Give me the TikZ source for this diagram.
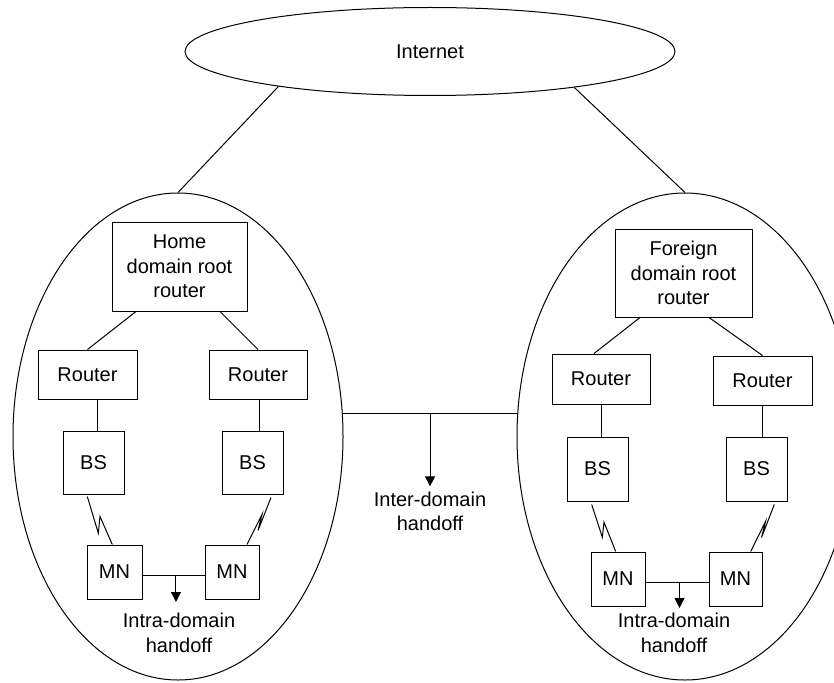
\documentclass[tikz,border=0pt]{standalone}
\usepackage{fontspec}
\setmainfont{Liberation Sans}
\usetikzlibrary{shapes.geometric, arrows.meta, calc}

\begin{document}
\begin{tikzpicture}[x=1pt, y=-1pt,
  every node/.style={font=\fontsize{20}{24.5}\selectfont},
  wire/.style={line width=1pt, black},
  box/.style={draw, line width=1pt, rectangle, inner sep=0pt, align=center},
  oval/.style={draw, line width=1pt, ellipse, inner sep=0pt},
  arr/.style={wire, -{Triangle[width=10pt,length=10pt]}},
  lbl/.style={inner sep=0pt, align=center, anchor=north}]

\useasboundingbox (0,0) rectangle (834,682);

% Internet cloud and the two domains
\node[oval, minimum width=490pt, minimum height=88pt] (internet) at (430,51.5) {Internet};
\node[oval, minimum width=330pt, minimum height=487pt] (home) at (178,436.5) {};
\node[oval, minimum width=336pt, minimum height=487pt] (foreign) at (685,436.5) {};

% Home domain
\node[box, minimum width=135pt, minimum height=89pt] (homeroot) at (179.5,266.5) {Home\\domain root\\router};
\node[box, minimum width=99pt, minimum height=49pt] (rtA) at (87.5,374.5) {Router};
\node[box, minimum width=98pt, minimum height=49pt] (rtB) at (258,374.5) {Router};
\node[box, minimum width=61pt, minimum height=63pt] (bsA) at (93.5,462.5) {BS};
\node[box, minimum width=61pt, minimum height=63pt] (bsB) at (252.5,462.5) {BS};
\node[box, minimum width=55pt, minimum height=54pt] (mnA) at (114.5,572) {MN};
\node[box, minimum width=54pt, minimum height=54pt] (mnB) at (232,572) {MN};

% Foreign domain
\node[box, minimum width=137pt, minimum height=88pt] (forroot) at (683.5,273) {Foreign\\domain root\\router};
\node[box, minimum width=98pt, minimum height=50pt] (rtC) at (601,379) {Router};
\node[box, minimum width=99pt, minimum height=49pt] (rtD) at (762.5,380.5) {Router};
\node[box, minimum width=61pt, minimum height=64pt] (bsC) at (597.5,469) {BS};
\node[box, minimum width=61pt, minimum height=64pt] (bsD) at (756.5,469) {BS};
\node[box, minimum width=54pt, minimum height=54pt] (mnC) at (618,579) {MN};
\node[box, minimum width=53pt, minimum height=54pt] (mnD) at (735.5,579) {MN};

% Internet links
\draw[wire] (internet.193.6) -- (home.north);
\draw[wire] (internet.346.6) -- (foreign.north);

% Root routers to routers
\draw[wire] ([xshift=-43.5pt]homeroot.south) -- (rtA.north);
\draw[wire] ([xshift=40.5pt]homeroot.south) -- (rtB.north);
\draw[wire] ([xshift=-43.5pt]forroot.south) -- ([xshift=-7pt]rtC.north);
\draw[wire] ([xshift=25.5pt]forroot.south) -- (rtD.north);

% Routers to base stations
\draw[wire] ([xshift=9.5pt]rtA.south) -- ([xshift=3.5pt]bsA.north);
\draw[wire] ([xshift=1pt]rtB.south) -- ([xshift=6.5pt]bsB.north);
\draw[wire] (rtC.south) -- ([xshift=3.5pt]bsC.north);
\draw[wire] ([xshift=-0.5pt]rtD.south) -- ([xshift=5.5pt]bsD.north);

% Wireless links (lightning bolts)
\draw[wire] ([xshift=-6.2pt,yshift=-2pt]bsA.south) -- ++(11,36.7) -- ++(1.7,-16.7) -- ([xshift=-2.2pt]mnA.north);
\draw[wire] ([xshift=18.5pt,yshift=-3pt]bsB.south) -- ++(-13,33) -- ++(4,-16) -- ([xshift=15pt]mnB.north);
\draw[wire] ([xshift=-5.8pt,yshift=-3pt]bsC.south) -- ++(10.6,32.7) -- ++(1.7,-15) -- ([xshift=-2.3pt]mnC.north);
\draw[wire] ([xshift=17.8pt,yshift=-3pt]bsD.south) -- ++(-12.8,33) -- ++(4,-16) -- ([xshift=15.2pt]mnD.north);

% Inter-domain handoff
\draw[wire] (home.8.2) -- (home.8.2 -| foreign.172);
\coordinate (interMid) at ($(home.8.2)!0.5!(home.8.2 -| foreign.172)$);
\draw[arr] (interMid) -- ++(0,73) coordinate (interTip);
\node[lbl] (interLbl) at ([yshift=-5pt]interTip) {Inter-domain\\handoff};

% Intra-domain handoffs
\draw[wire] ([yshift=-3pt]mnA.east) -- ([yshift=-3pt]mnB.west);
\coordinate (intraMidA) at ($([yshift=-3pt]mnA.east)!0.54!([yshift=-3pt]mnB.west)$);
\draw[arr] (intraMidA) -- ++(0,27) coordinate (intraTipA);
\node[lbl] (intraLblA) at (179,613) {Intra-domain\\handoff};

\draw[wire] ([yshift=-3pt]mnC.east) -- ([yshift=-3pt]mnD.west);
\coordinate (intraMidB) at ($([yshift=-3pt]mnC.east)!0.54!([yshift=-3pt]mnD.west)$);
\draw[arr] (intraMidB) -- ++(0,26) coordinate (intraTipB);
\node[lbl] (intraLblB) at (674,613) {Intra-domain\\handoff};

\end{tikzpicture}
\end{document}
